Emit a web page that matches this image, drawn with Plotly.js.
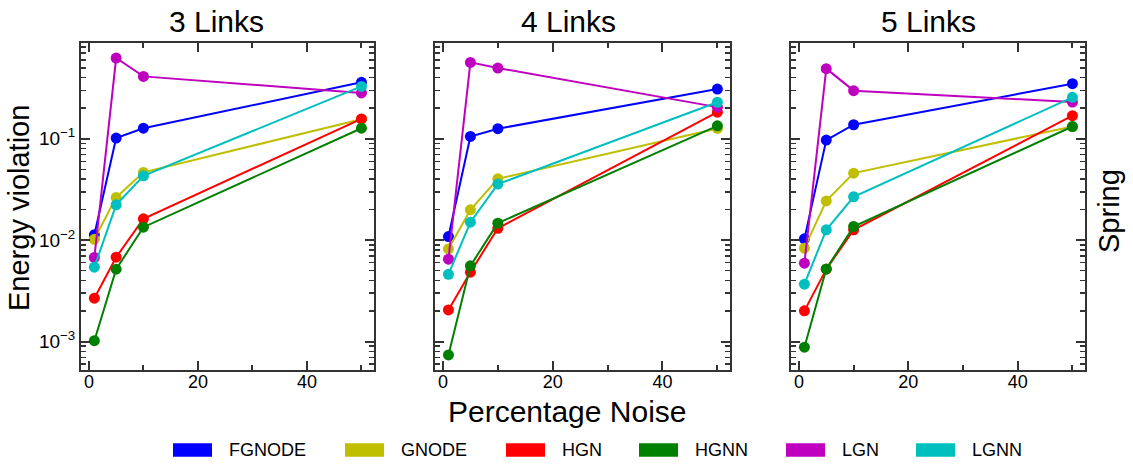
<!DOCTYPE html>
<html>
<head>
<meta charset="utf-8">
<script src="https://cdn.plot.ly/plotly-3.0.1.min.js"></script>
<style>
  html, body { margin: 0; padding: 0; background: #fff; }
  #chart { width: 1133px; height: 475px; }
</style>
</head>
<body>
<div id="chart"></div>
<script>
// noise levels on the x axis
const noise = [1, 5, 10, 50];
const models = ["FGNODE", "GNODE", "HGN", "HGNN", "LGN", "LGNN"];
const colors = ["#0000ff", "#bfbf00", "#ff0000", "#008000", "#bf00bf", "#00bfbf"];
const panelTitles = ["3 Links", "4 Links", "5 Links"];

// energy violation per model (same order as models)
const links3 = [
    [0.0113, 0.1016, 0.127, 0.36],
    [0.0102, 0.0264, 0.0466, 0.156],
    [0.00268, 0.00679, 0.01625, 0.157],
    [0.00102, 0.00518, 0.01343, 0.127],
    [0.00675, 0.625, 0.412, 0.283],
    [0.00542, 0.0223, 0.0431, 0.328]
];
const links4 = [
    [0.01086, 0.1054, 0.1256, 0.309],
    [0.0082, 0.0199, 0.0403, 0.1264],
    [0.00205, 0.00483, 0.0131, 0.183],
    [0.000738, 0.00558, 0.01472, 0.134],
    [0.00649, 0.566, 0.498, 0.205],
    [0.00461, 0.01506, 0.0357, 0.229]
];
const links5 = [
    [0.0103, 0.097, 0.1374, 0.349],
    [0.00834, 0.0244, 0.0458, 0.132],
    [0.00201, 0.00518, 0.01265, 0.1687],
    [0.00088, 0.0052, 0.01364, 0.132],
    [0.00593, 0.491, 0.298, 0.23],
    [0.00368, 0.01265, 0.0268, 0.256]
];
const yTickVals = [0.001, 0.01, 0.1];
const yTickText = ["10<sup>\u22123</sup>", "10<sup>\u22122</sup>", "10<sup>\u22121</sup>"];

const W = 1133, H = 475;
const FONT = "Liberation Sans, Arial, sans-serif";
const AXC = "#333333";

// panel pixel boxes
const panelsPx = [[81, 374], [435, 730], [791, 1085]];
const topPx = 43, botPx = 370;

let minorY = [];
for (let e = -4; e <= 0; e++) {
    for (let m = 2; m <= 9; m++) minorY.push(m * Math.pow(10, e));
}

let data = [];
[links3, links4, links5].forEach((panel, p) => {
    panel.forEach((vals, i) => {
        data.push({
            x: noise,
            y: vals,
            name: models[i],
            mode: "lines+markers",
            type: "scatter",
            xaxis: p == 0 ? "x" : "x" + (p + 1),
            yaxis: p == 0 ? "y" : "y" + (p + 1),
            line: {color: colors[i], width: 2},
            marker: {color: colors[i], size: 11},
            showlegend: false
        });
    });
});

function xAxis(p) {
    return {
        domain: [panelsPx[p][0] / W, panelsPx[p][1] / W],
        anchor: p == 0 ? "y" : "y" + (p + 1),
        range: [-1.45, 52.3],
        tickvals: [0, 20, 40],
        ticks: "inside", ticklen: 9, tickwidth: 2, tickcolor: AXC,
        ticklabelstandoff: -6,
        minor: {tickvals: [10, 30, 50], ticks: "inside", ticklen: 5, tickwidth: 2, tickcolor: AXC},
        showline: true, linecolor: AXC, linewidth: 2, mirror: "allticks",
        showgrid: false, zeroline: false,
        tickfont: {family: FONT, size: 18, color: "#000"}
    };
}
function yAxis(p) {
    return {
        domain: [1 - botPx / H, 1 - topPx / H],
        anchor: p == 0 ? "x" : "x" + (p + 1),
        type: "log",
        range: [-3.28, -0.056],
        tickvals: yTickVals,
        ticktext: yTickText,
        showticklabels: p == 0,
        ticks: "inside", ticklen: 9, tickwidth: 2, tickcolor: AXC,
        minor: {tickvals: minorY, ticks: "inside", ticklen: 5, tickwidth: 1.5, tickcolor: AXC},
        showline: true, linecolor: AXC, linewidth: 2, mirror: "allticks",
        showgrid: false, zeroline: false,
        tickfont: {family: FONT, size: 19, color: "#000"}
    };
}

let annotations = [];
const titleCenters = [216, 568, 928];
panelTitles.forEach((t, p) => {
    annotations.push({
        text: t, xref: "paper", yref: "paper",
        x: titleCenters[p] / W, y: 1 - 21 / H,
        xanchor: "center", yanchor: "middle", showarrow: false,
        font: {family: FONT, size: 30, color: "#000"}
    });
});
annotations.push({
    text: "Energy violation", xref: "paper", yref: "paper",
    x: 19 / W, y: 1 - 208 / H, textangle: -90,
    xanchor: "center", yanchor: "middle", showarrow: false,
    font: {family: FONT, size: 29, color: "#000"}
});
annotations.push({
    text: "Percentage Noise", xref: "paper", yref: "paper",
    x: 566.5 / W, y: 1 - 411 / H,
    xanchor: "center", yanchor: "middle", showarrow: false,
    font: {family: FONT, size: 30, color: "#000"}
});
annotations.push({
    text: "Spring", xref: "paper", yref: "paper",
    x: 1109 / W, y: 1 - 211 / H, textangle: -90,
    xanchor: "center", yanchor: "middle", showarrow: false,
    font: {family: FONT, size: 29, color: "#000"}
});

// hand-built legend: coloured patches with labels
const legendX = [173, 345, 506, 639, 786, 916];
let shapes = [];
models.forEach((m, i) => {
    shapes.push({
        type: "rect", xref: "paper", yref: "paper",
        x0: legendX[i] / W, x1: (legendX[i] + 39) / W,
        y0: 1 - 456.7 / H, y1: 1 - 443.3 / H,
        fillcolor: colors[i], line: {width: 0}
    });
    annotations.push({
        text: m, xref: "paper", yref: "paper",
        x: (legendX[i] + 54) / W, y: 1 - 450 / H,
        xanchor: "left", yanchor: "middle", showarrow: false,
        font: {family: FONT, size: 18, color: "#000"}
    });
});

const layout = {
    width: W, height: H,
    margin: {l: 0, r: 0, t: 0, b: 0},
    paper_bgcolor: "#fff", plot_bgcolor: "#fff",
    showlegend: false,
    xaxis: xAxis(0), xaxis2: xAxis(1), xaxis3: xAxis(2),
    yaxis: yAxis(0), yaxis2: yAxis(1), yaxis3: yAxis(2),
    annotations: annotations,
    shapes: shapes
};

Plotly.newPlot("chart", data, layout, {staticPlot: true});
</script>
</body>
</html>
